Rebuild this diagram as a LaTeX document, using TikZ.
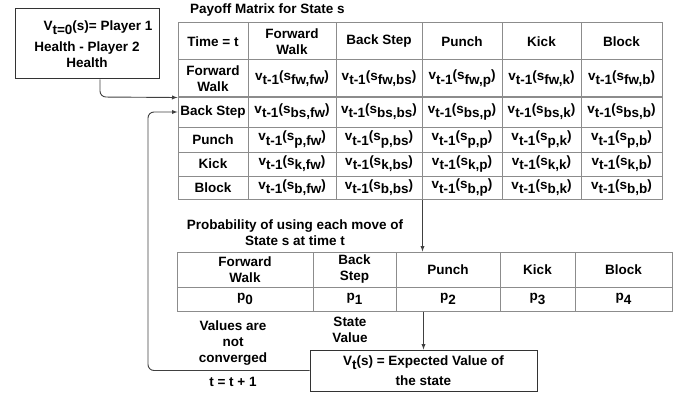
\documentclass[tikz,border=0pt]{standalone}
\usepackage{fontspec}
\setmainfont{Liberation Sans}
\usepackage{tikz}

\newcommand{\dn}[1]{\raisebox{-0.3em}{#1}}
\newcommand{\vv}[2]{v\dn{t-1}(s\dn{#1,#2})}

\begin{document}
\begin{tikzpicture}[x=1pt,y=-1pt,font=\fontsize{13.5}{16}\selectfont\bfseries,
	cell/.style={draw=gray!90,line width=1pt,inner sep=0pt,align=center},
	box/.style={draw=black!80,line width=1pt,inner sep=0pt,align=center},
	lbl/.style={align=center,inner sep=0pt},
	link/.style={draw=black!75,line width=0.9pt,-latex,rounded corners=6pt}]
	\useasboundingbox (0,0) rectangle (683,396);
	% initial value
	\node[box,minimum width=144,minimum height=70] (init) at (87,44) {\hspace*{22pt}V\dn{t=0}(s)= Player 1\\[5pt]Health - Player 2\\Health};
	% payoff matrix
	\node[lbl,anchor=west] (ptitle) at (190,10) {Payoff Matrix for State s};
	\node[cell,minimum width=70,minimum height=37] (m00) at (213,41.5)   {Time = t};
	\node[cell,minimum width=88,minimum height=37] (m01) at (292,41.5)   {Forward\\Walk};
	\node[cell,minimum width=86,minimum height=37] (m02) at (379,41.5)   {Back Step};
	\node[cell,minimum width=80,minimum height=37] (m03) at (462,41.5)   {Punch};
	\node[cell,minimum width=79,minimum height=37] (m04) at (541.5,41.5) {Kick};
	\node[cell,minimum width=81,minimum height=37] (m05) at (621.5,41.5) {Block};
	\node[cell,minimum width=70,minimum height=37] (m10) at (213,78.5)   {Forward\\Walk};
	\node[cell,minimum width=88,minimum height=37] (m11) at (292,78.5)   {\vv{fw}{fw}};
	\node[cell,minimum width=86,minimum height=37] (m12) at (379,78.5)   {\vv{fw}{bs}};
	\node[cell,minimum width=80,minimum height=37] (m13) at (462,78.5)   {\vv{fw}{p}};
	\node[cell,minimum width=79,minimum height=37] (m14) at (541.5,78.5) {\vv{fw}{k}};
	\node[cell,minimum width=81,minimum height=37] (m15) at (621.5,78.5) {\vv{fw}{b}};
	\node[cell,minimum width=70,minimum height=30] (m20) at (213,112)    {Back Step};
	\node[cell,minimum width=88,minimum height=30] (m21) at (292,112)    {\vv{bs}{fw}};
	\node[cell,minimum width=86,minimum height=30] (m22) at (379,112)    {\vv{bs}{bs}};
	\node[cell,minimum width=80,minimum height=30] (m23) at (462,112)    {\vv{bs}{p}};
	\node[cell,minimum width=79,minimum height=30] (m24) at (541.5,112)  {\vv{bs}{k}};
	\node[cell,minimum width=81,minimum height=30] (m25) at (621.5,112)  {\vv{bs}{b}};
	\node[cell,minimum width=70,minimum height=25] (m30) at (213,139.5)   {Punch};
	\node[cell,minimum width=88,minimum height=25] (m31) at (292,139.5)   {\vv{p}{fw}};
	\node[cell,minimum width=86,minimum height=25] (m32) at (379,139.5)   {\vv{p}{bs}};
	\node[cell,minimum width=80,minimum height=25] (m33) at (462,139.5)   {\vv{p}{p}};
	\node[cell,minimum width=79,minimum height=25] (m34) at (541.5,139.5) {\vv{p}{k}};
	\node[cell,minimum width=81,minimum height=25] (m35) at (621.5,139.5) {\vv{p}{b}};
	\node[cell,minimum width=70,minimum height=24] (m40) at (213,164)    {Kick};
	\node[cell,minimum width=88,minimum height=24] (m41) at (292,164)    {\vv{k}{fw}};
	\node[cell,minimum width=86,minimum height=24] (m42) at (379,164)    {\vv{k}{bs}};
	\node[cell,minimum width=80,minimum height=24] (m43) at (462,164)    {\vv{k}{p}};
	\node[cell,minimum width=79,minimum height=24] (m44) at (541.5,164)  {\vv{k}{k}};
	\node[cell,minimum width=81,minimum height=24] (m45) at (621.5,164)  {\vv{k}{b}};
	\node[cell,minimum width=70,minimum height=23] (m50) at (213,187.5)   {Block};
	\node[cell,minimum width=88,minimum height=23] (m51) at (292,187.5)   {\vv{b}{fw}};
	\node[cell,minimum width=86,minimum height=23] (m52) at (379,187.5)   {\vv{b}{bs}};
	\node[cell,minimum width=80,minimum height=23] (m53) at (462,187.5)   {\vv{b}{p}};
	\node[cell,minimum width=79,minimum height=23] (m54) at (541.5,187.5) {\vv{b}{k}};
	\node[cell,minimum width=81,minimum height=23] (m55) at (621.5,187.5) {\vv{b}{b}};
	% move probabilities
	\node[lbl] (qtitle) at (295,233) {Probability of using each move of\\State s at time t};
	\node[cell,minimum width=136,minimum height=35] (q00) at (245,269.5)   {Forward\\Walk};
	\node[cell,minimum width=83,minimum height=35]  (q01) at (354.5,269.5) {Back\\Step};
	\node[cell,minimum width=104,minimum height=35] (q02) at (448,269.5)   {Punch};
	\node[cell,minimum width=75,minimum height=35]  (q03) at (537.5,269.5) {Kick};
	\node[cell,minimum width=97,minimum height=35]  (q04) at (623.5,269.5) {Block};
	\node[cell,minimum width=136,minimum height=24] (q10) at (245,299)   {p\dn{0}};
	\node[cell,minimum width=83,minimum height=24]  (q11) at (354.5,299) {p\dn{1}};
	\node[cell,minimum width=104,minimum height=24] (q12) at (448,299)   {p\dn{2}};
	\node[cell,minimum width=75,minimum height=24]  (q13) at (537.5,299) {p\dn{3}};
	\node[cell,minimum width=97,minimum height=24]  (q14) at (623.5,299) {p\dn{4}};
	% state value
	\node[box,minimum width=227,minimum height=41] (val) at (423.5,370.5) {V\dn{t}(s) = Expected Value of\\[4pt]the state};
	\node[lbl] (sv) at (350,330) {State\\Value};
	\node[lbl] (nc) at (233,343) {Values are\\not\\converged};
	\node[lbl] (inc) at (233,382) {t = t + 1};
	% connectors
	\coordinate (drop) at (100,97);
	\coordinate (back) at (148,370.5);
	\draw[link] (init.south -| drop) -- (drop) -- (m10.south west);
	\draw[link] (m52.south east) -- (m52.south east |- q02.north);
	\draw[link] (val.north |- q12.south) -- (val.north);
	\draw[link] (val.west) -- (back) |- (m20.west);
\end{tikzpicture}
\end{document}
